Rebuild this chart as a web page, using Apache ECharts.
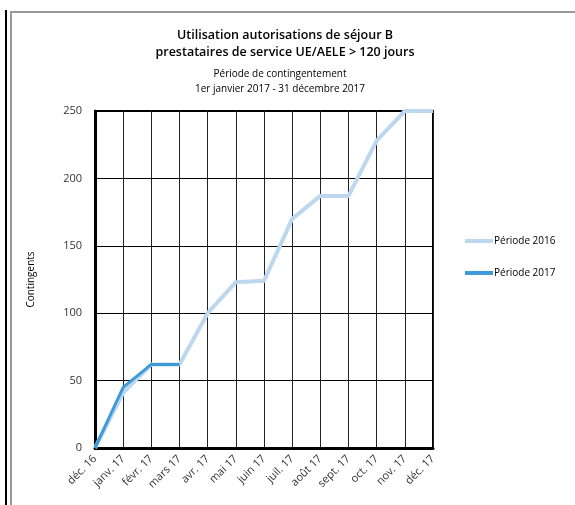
<!DOCTYPE html>
<html>
<head>
<meta charset="utf-8">
<script src="https://cdn.jsdelivr.net/npm/echarts@6/dist/echarts.min.js"></script>
<style>
html,body{margin:0;padding:0;background:#fff;}
#chart{width:575px;height:505px;}
</style>
</head>
<body>
<div id="chart"></div>
<script>
var mois = ['déc. 16','janv. 17','févr. 17','mars 17','avr. 17','mai 17','juin 17','juil. 17','août 17','sept. 17','oct. 17','nov. 17','déc. 17'];
var periode2016 = [0, 41, 62, 62, 100, 123, 124, 170, 187, 187, 228, 250, 250];
var periode2017 = [0, 45, 62, 62, null, null, null, null, null, null, null, null, null];
var yTicks = [0, 250, 50];

var police = '"Open Sans", "Noto Sans", sans-serif';

var myChart = echarts.init(document.getElementById('chart'));
myChart.setOption({
	animation: false,
	backgroundColor: '#fff',
	title: [{
		text: 'Utilisation autorisations de séjour B\nprestataires de service UE/AELE > 120 jours',
		left: 280,
		top: 22,
		textAlign: 'center',
		textStyle: {fontFamily: police, fontSize: 12.5, fontWeight: 600, color: '#000', lineHeight: 17}
	}, {
		text: 'Période de contingentement\n1er janvier 2017 - 31 décembre 2017',
		left: 275,
		top: 62,
		textAlign: 'center',
		textStyle: {fontFamily: police, fontSize: 10, fontWeight: 'normal', color: '#000', lineHeight: 15}
	}],
	legend: {
		orient: 'vertical',
		left: 465,
		top: 236,
		padding: 0,
		itemWidth: 28,
		itemHeight: 4,
		itemGap: 22,
		icon: 'rect',
		textStyle: {fontFamily: police, fontSize: 10, color: '#000', padding: [0, 0, 0, -4]},
		data: ['Période 2016', 'Période 2017']
	},
	grid: {
		left: 95, top: 111, right: 142, bottom: 57,
		show: true, borderColor: '#000', borderWidth: 2,
		containLabel: false
	},
	xAxis: {
		type: 'category',
		boundaryGap: false,
		data: mois,
		axisLine: {lineStyle: {color: '#000', width: 3}},
		axisTick: {show: false},
		splitLine: {show: true, lineStyle: {color: '#222', width: 1}},
		axisLabel: {rotate: 45, interval: 0, fontFamily: police, fontSize: 11, color: '#333', margin: 9}
	},
	yAxis: {
		type: 'value',
		min: yTicks[0], max: yTicks[1], interval: yTicks[2],
		name: 'Contingents',
		nameLocation: 'middle',
		nameGap: 59,
		nameTextStyle: {fontFamily: police, fontSize: 10, color: '#000'},
		axisLine: {show: true, lineStyle: {color: '#000', width: 3}},
		axisTick: {show: false},
		splitLine: {show: true, lineStyle: {color: '#000', width: 1}},
		axisLabel: {fontFamily: police, fontSize: 11, color: '#333', margin: 13}
	},
	series: [{
		name: 'Période 2016',
		type: 'line',
		data: periode2016,
		symbol: 'none',
		color: '#BDD7EE',
		lineStyle: {width: 4, color: '#BDD7EE', join: 'round'}
	}, {
		name: 'Période 2017',
		type: 'line',
		data: periode2017,
		symbol: 'none',
		color: '#3E9AD9',
		lineStyle: {width: 3, color: '#3E9AD9', join: 'round'}
	}],
	graphic: [
		{type: 'line', shape: {x1: 6, y1: 10, x2: 6, y2: 505}, style: {stroke: '#000', lineWidth: 2}},
		{type: 'polyline', shape: {points: [[11, 505], [11, 12], [575, 12]]}, style: {stroke: '#999', lineWidth: 2, fill: null}}
	]
});
</script>
</body>
</html>
